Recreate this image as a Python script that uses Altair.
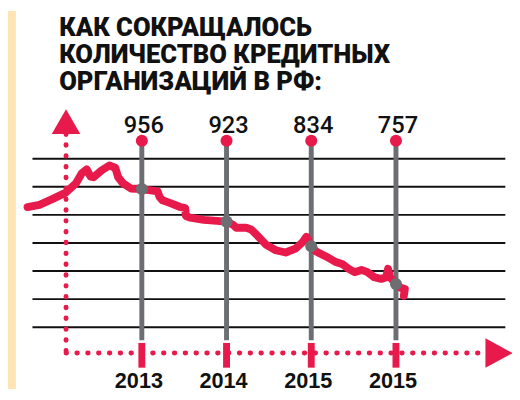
import altair as alt
import pandas as pd

# ---- data ----
title_lines = ["КАК СОКРАЩАЛОСЬ", "КОЛИЧЕСТВО КРЕДИТНЫХ", "ОРГАНИЗАЦИЙ В РФ:"]

# key points (one per vertical line)
key_years = [2013, 2014, 2015, 2016]
key_labels = ["2013", "2014", "2015", "2015"]
key_counts = ["956", "923", "834", "757"]
key_line_values = [946, 888, 844, 777]

# hand-drawn style curve (year, index value)
curve_years = [2011.651, 2011.791, 2011.942, 2012.105, 2012.221, 2012.291, 2012.349, 2012.395,
               2012.430, 2012.523, 2012.616, 2012.686, 2012.721, 2012.779, 2012.872, 2013.000,
               2013.186, 2013.209, 2013.244, 2013.337, 2013.453, 2013.512, 2013.520, 2013.570,
               2013.733, 2014.000, 2014.081, 2014.116, 2014.233, 2014.291, 2014.384, 2014.465,
               2014.581, 2014.698, 2014.814, 2014.895, 2014.942, 2015.000, 2015.058, 2015.174,
               2015.291, 2015.372, 2015.442, 2015.512, 2015.593, 2015.663, 2015.744, 2015.826,
               2015.884, 2015.907, 2015.930, 2016.000, 2016.058, 2016.105, 2016.093]
curve_values = [914, 918, 928, 940, 956, 974, 981, 968,
                967, 979, 988, 984, 967, 956, 947, 946,
                942, 932, 926, 921, 914, 912, 898, 895,
                891, 888, 882, 877, 877, 874, 860, 847,
                837, 833, 840, 851, 861, 844, 835, 826,
                816, 812, 804, 798, 802, 798, 789, 786,
                789, 804, 789, 777, 770, 768, 756]

grid_values = [1000, 950, 900, 850, 800, 750, 700]

RED = "#E8194B"
GRAY = "#6D6E71"
BEIGE = "#FEE3B5"

# ---- scales ----
XS = alt.Scale(domain=[2011.42, 2017.37], nice=False, zero=False)
YS = alt.Scale(domain=[590, 1263], nice=False, zero=False)

def X(field="x"):
    return alt.X(f"{field}:Q", scale=XS, axis=None)

def Y(field="y"):
    return alt.Y(f"{field}:Q", scale=YS, axis=None)

# axis frame positions (data units)
axis_x0 = 2012.105
axis_y0 = 654
axis_top = 1044
axis_right = 2017.06
grid_x0, grid_x1 = 2011.709, 2017.291
stem_bottom, stem_top = 677, 1032
tick_lo, tick_hi = 628, 672
count_label_y = 1046
year_label_y = 592

strip = alt.Chart(pd.DataFrame({"a": [0]})).mark_rect(color=BEIGE).encode(
    x=alt.value(0), x2=alt.value(8), y=alt.value(0), y2=alt.value(384))

grid_df = pd.DataFrame({"x": [grid_x0] * len(grid_values), "x2": [grid_x1] * len(grid_values), "y": grid_values})
grid = alt.Chart(grid_df).mark_rule(color="#111111", strokeWidth=2).encode(
    x=X(), x2="x2:Q", y=Y())

stems_df = pd.DataFrame({"x": key_years, "y": [stem_bottom] * 4, "y2": [stem_top] * 4})
stems = alt.Chart(stems_df).mark_rule(color=GRAY, strokeWidth=5).encode(x=X(), y=Y(), y2="y2:Q")

ticks_df = pd.DataFrame({"x": key_years, "y": [tick_lo] * 4, "y2": [tick_hi] * 4})
ticks = alt.Chart(ticks_df).mark_rule(color=RED, strokeWidth=7).encode(x=X(), y=Y(), y2="y2:Q")

vdots = alt.Chart(pd.DataFrame({"x": [axis_x0], "y": [axis_top], "y2": [axis_y0]})).mark_rule(
    color=RED, strokeWidth=5, strokeDash=[0.5, 10.5], strokeCap="round").encode(x=X(), y=Y(), y2="y2:Q")
hdots = alt.Chart(pd.DataFrame({"x": [axis_x0], "x2": [axis_right], "y": [axis_y0]})).mark_rule(
    color=RED, strokeWidth=5, strokeDash=[0.5, 10.5], strokeCap="round").encode(x=X(), x2="x2:Q", y=Y())

up_arrow = alt.Chart(pd.DataFrame({"x": [axis_x0], "y": [1066]})).mark_point(
    shape="M0,-0.86L1,0.86L-1,0.86Z", filled=True, color=RED, size=841, opacity=1, strokeWidth=0).encode(x=X(), y=Y())
right_arrow = alt.Chart(pd.DataFrame({"x": [2017.203], "y": [axis_y0]})).mark_point(
    shape="M1,0L-0.84,-1L-0.84,1Z", filled=True, color=RED, size=900, opacity=1, strokeWidth=0).encode(x=X(), y=Y())

curve_df = pd.DataFrame({"x": curve_years, "y": curve_values, "i": range(len(curve_years))})
curve = alt.Chart(curve_df).mark_line(color=RED, strokeWidth=8, strokeJoin="round", strokeCap="round").encode(
    x=X(), y=Y(), order="i:Q")

top_dots = alt.Chart(pd.DataFrame({"x": key_years, "y": [stem_top] * 4})).mark_circle(
    color=RED, size=150, opacity=1).encode(x=X(), y=Y())
line_dots = alt.Chart(pd.DataFrame({"x": key_years, "y": key_line_values})).mark_circle(
    color=GRAY, size=150, opacity=1).encode(x=X(), y=Y())

counts = alt.Chart(pd.DataFrame({"x": key_years, "y": [count_label_y] * 4, "t": key_counts})).mark_text(
    font="Roboto", fontSize=24, fontWeight=500, color="#111111", baseline="alphabetic", align="center", dx=2).encode(
    x=X(), y=Y(), text="t:N")

years = alt.Chart(pd.DataFrame({"x": key_years, "y": [year_label_y] * 4, "t": key_labels})).mark_text(
    font="Liberation Sans", fontSize=22, fontWeight="bold", color="#111111", baseline="alphabetic",
    align="center", dx=-3).encode(x=X(), y=Y(), text="t:N")

title = alt.Chart(pd.DataFrame({"a": [0]})).mark_text(
    text=title_lines, font="Roboto", fontSize=26, fontWeight=900, lineHeight=27.5,
    align="left", baseline="alphabetic", color="#111111").encode(x=alt.value(52), y=alt.value(25))

chart = alt.layer(strip, grid, stems, ticks, vdots, hdots, up_arrow, right_arrow, curve,
                  top_dots, line_dots, counts, years, title).properties(
    width=512, height=384, padding=0, autosize=alt.AutoSizeParams(type="none"),
    background="white").configure_view(stroke=None)

chart.save("out.html", embed_options={"renderer": "svg", "actions": False})
